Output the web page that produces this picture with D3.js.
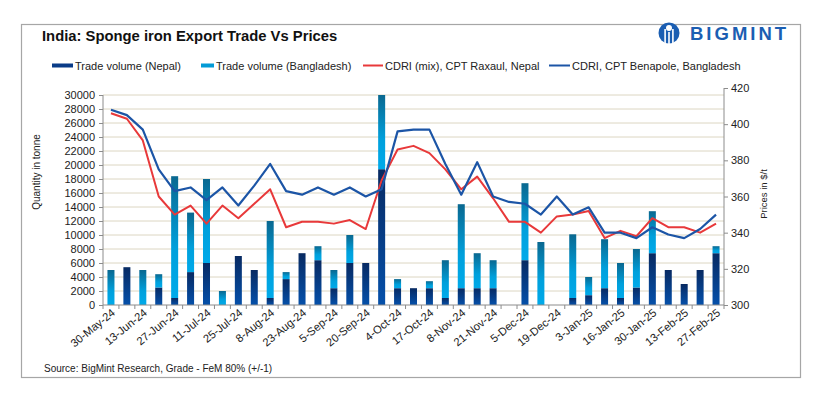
<!DOCTYPE html>
<html><head><meta charset="utf-8">
<script src="https://cdn.jsdelivr.net/npm/d3@7"></script>
<style>
html,body{margin:0;padding:0;background:#fff;}
svg text{font-family:"Liberation Sans",Arial,sans-serif;}
</style></head>
<body>
<svg id="chart" width="821" height="399"></svg>
<script>
const categories = ["30-May-24","6-Jun-24","13-Jun-24","20-Jun-24","27-Jun-24","4-Jul-24","11-Jul-24","18-Jul-24","25-Jul-24","1-Aug-24","8-Aug-24","16-Aug-24","23-Aug-24","30-Aug-24","5-Sep-24","12-Sep-24","20-Sep-24","27-Sep-24","4-Oct-24","10-Oct-24","17-Oct-24","25-Oct-24","8-Nov-24","14-Nov-24","21-Nov-24","28-Nov-24","5-Dec-24","12-Dec-24","19-Dec-24","26-Dec-24","3-Jan-25","9-Jan-25","16-Jan-25","23-Jan-25","30-Jan-25","6-Feb-25","13-Feb-25","20-Feb-25","27-Feb-25"];
const tradeNepal = [0,5400,0,2500,1000,4700,6000,0,7000,5000,1000,3700,7400,6400,2400,6000,6000,19400,2400,2400,2400,1000,2400,2400,2400,0,6400,0,0,1000,1400,2400,1000,2500,7400,5000,3000,5000,7400];
const tradeBangladesh = [5000,0,5000,1900,17400,8500,12000,2000,0,0,11000,1000,0,2000,2600,4000,0,10600,1300,0,1000,5400,12000,5000,4000,0,11000,9000,0,9100,2600,7000,5000,5500,6000,0,0,0,1000];
const priceRaxaul = [406,403,391,360,350,355,345,355,348,356,364,343,346,346,345,347,342,369,386,388,384,375,364,371,359,346,346,340,349,350,352,337,341,338,348,343,343,340,345];
const priceBenapole = [408,405,397,375,363,365,358,365,355,366,378,363,361,365,361,365,360,364,396,397,397,378,361,379,360,357,356,350,360,350,354,340,340,337,343,339,337,342,350];
const leftTicks = d3.range(0, 30001, 2000);
const rightTicks = [300,320,340,360,380,400,420];
const seriesNames = ["Trade volume (Nepal)","Trade volume (Bangladesh)","CDRI (mix), CPT Raxaul, Nepal","CDRI, CPT Benapole, Bangladesh"];

const svg = d3.select("#chart");
const defs = svg.append("defs");
const gN = defs.append("linearGradient").attr("id","gN").attr("x1",0).attr("y1",0).attr("x2",0).attr("y2",1);
gN.append("stop").attr("offset","0").attr("stop-color","#082a62");
gN.append("stop").attr("offset","1").attr("stop-color","#0550aa");
const gB = defs.append("linearGradient").attr("id","gB").attr("x1",0).attr("y1",0).attr("x2",0).attr("y2",1);
gB.append("stop").attr("offset","0").attr("stop-color","#0a6890");
gB.append("stop").attr("offset","0.6").attr("stop-color","#00a0dc");
gB.append("stop").attr("offset","1").attr("stop-color","#00aaea");

// frame
svg.append("rect").attr("x",21.5).attr("y",24.5).attr("width",779).attr("height",353)
  .attr("fill","none").attr("stroke","#a6a6a6").attr("stroke-width",1.2);

// title
svg.append("text").attr("x",42).attr("y",40.5).attr("font-size",14.8).attr("font-weight","bold").attr("fill","#111")
  .text("India: Sponge iron Export Trade Vs Prices");

// logo
const logo = svg.append("g");
logo.append("circle").attr("cx",669).attr("cy",33).attr("r",10.5).attr("fill","#1b5eb2");
logo.append("circle").attr("cx",669).attr("cy",28).attr("r",3).attr("fill","#fff");
logo.append("rect").attr("x",664.3).attr("y",29).attr("width",1.6).attr("height",15).attr("fill","#fff");
logo.append("rect").attr("x",672.1).attr("y",29).attr("width",1.6).attr("height",15).attr("fill","#fff");
logo.append("rect").attr("x",668.2).attr("y",32).attr("width",1.6).attr("height",12).attr("fill","#fff");
logo.append("text").attr("x",690).attr("y",40).attr("font-size",18.5).attr("font-weight","bold")
  .attr("letter-spacing",3).attr("fill","#1b5eb2").text("BIGMINT");

// scales
const x = d3.scaleBand().domain(categories).range([103,724]).paddingInner(0.56).paddingOuter(0.28);
const yL = d3.scaleLinear().domain([0,30000]).range([305,95]);
const yR = d3.scaleLinear().domain([300,420]).range([305,88]);

// gridlines
svg.append("g").selectAll("line").data(leftTicks.slice(1)).join("line")
  .attr("x1",103).attr("x2",724).attr("y1",d=>yL(d)).attr("y2",d=>yL(d))
  .attr("stroke","#dcd6c2").attr("stroke-width",1);

// bars
const stackData = categories.map((c,i)=>({c, nepal:tradeNepal[i], bang:tradeBangladesh[i]}));
const bars = svg.append("g");
bars.selectAll("rect.n").data(stackData.filter(d=>d.nepal>0)).join("rect").attr("class","n")
  .attr("x",d=>x(d.c)).attr("width",x.bandwidth())
  .attr("y",d=>yL(d.nepal)).attr("height",d=>yL(0)-yL(d.nepal)).attr("fill","url(#gN)");
bars.selectAll("rect.b").data(stackData.filter(d=>d.bang>0)).join("rect").attr("class","b")
  .attr("x",d=>x(d.c)).attr("width",x.bandwidth())
  .attr("y",d=>yL(d.nepal+d.bang)).attr("height",d=>yL(d.nepal)-yL(d.nepal+d.bang)).attr("fill","url(#gB)");

// lines
const cx = c => x(c) + x.bandwidth()/2;
const lineR = d3.line().x((d,i)=>cx(categories[i])).y(d=>yR(d));
svg.append("path").datum(priceRaxaul).attr("d",lineR).attr("fill","none")
  .attr("stroke","#e8393a").attr("stroke-width",2).attr("stroke-linejoin","round");
svg.append("path").datum(priceBenapole).attr("d",lineR).attr("fill","none")
  .attr("stroke","#1c55a6").attr("stroke-width",2.2).attr("stroke-linejoin","round");

// axes
const axL = svg.append("g").attr("transform","translate(103,0)")
  .call(d3.axisLeft(yL).tickValues(leftTicks).tickSize(4).tickPadding(4).tickFormat(d=>String(d)));
const axR = svg.append("g").attr("transform","translate(724,0)")
  .call(d3.axisRight(yR).tickValues(rightTicks).tickSize(4).tickPadding(3).tickFormat(d=>String(d)));
[axL,axR].forEach(a=>{
  a.select(".domain").attr("stroke","#8c8c8c");
  a.selectAll(".tick line").attr("stroke","#8c8c8c");
  a.selectAll("text").attr("font-size",11).attr("fill","#222").attr("font-family","Liberation Sans, Arial, sans-serif");
});
axL.select(".domain").attr("d","M0,95V305");
axR.select(".domain").attr("d","M0,88V305");

// x axis
const axB = svg.append("g").attr("transform","translate(0,305)")
  .call(d3.axisBottom(x).tickValues(categories.filter((d,i)=>i%2===0)).tickSize(0).tickPadding(0));
axB.select(".domain").attr("stroke","#8c8c8c").attr("d","M103,0H724");
axB.selectAll(".tick text").attr("font-size",11.2).attr("fill","#222")
  .attr("font-family","Liberation Sans, Arial, sans-serif")
  .attr("text-anchor","end").attr("dy",0)
  .attr("transform","translate(5,9) rotate(-39)");
const boundaries = d3.range(categories.length+1).map(i=>103 + i*x.step());
svg.append("g").selectAll("line").data(boundaries).join("line")
  .attr("x1",d=>d).attr("x2",d=>d).attr("y1",305).attr("y2",309).attr("stroke","#8c8c8c");

// axis titles
svg.append("text").attr("transform","translate(40,172) rotate(-90)").attr("text-anchor","middle")
  .attr("font-size",10).attr("fill","#222").text("Quantity in tonne");
svg.append("text").attr("transform","translate(767,194) rotate(-90)").attr("text-anchor","middle")
  .attr("font-size",9.5).attr("fill","#222").text("Prices in $/t");

// legend
const leg = svg.append("g").attr("font-size",11).attr("fill","#222");
const legItems = [
  {x:52, w:21, tx:75, type:"rect", color:"#0a3c88"},
  {x:201, w:13, tx:216, type:"rect", color:"#039bd6"},
  {x:363, w:20, tx:385, type:"line", color:"#e8393a"},
  {x:549, w:21, tx:572, type:"line", color:"#1c55a6"}
];
legItems.forEach((it,i)=>{
  if(it.type==="rect"){
    leg.append("rect").attr("x",it.x).attr("y",63.5).attr("width",it.w).attr("height",4).attr("fill",it.color);
  } else {
    leg.append("line").attr("x1",it.x).attr("x2",it.x+it.w).attr("y1",65.5).attr("y2",65.5)
      .attr("stroke",it.color).attr("stroke-width",2);
  }
  leg.append("text").attr("x",it.tx).attr("y",69.5).text(seriesNames[i]);
});

// source
svg.append("text").attr("x",44).attr("y",372).attr("font-size",10).attr("fill","#222")
  .text("Source: BigMint Research, Grade - FeM 80% (+/-1)");
</script>
</body></html>
